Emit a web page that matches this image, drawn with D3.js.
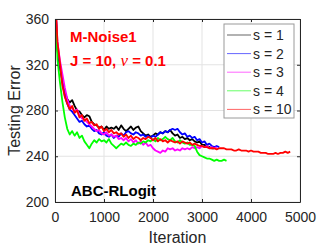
<!DOCTYPE html>
<html>
<head>
<meta charset="utf-8">
<script src="https://cdn.jsdelivr.net/npm/d3@7"></script>
<style>
  body { margin: 0; background: #fff; }
  svg { display: block; font-family: "Liberation Sans", Arial, sans-serif; }
</style>
</head>
<body>
<script>
// sample spacing of the traces (iterations)
var iterStep = 50;

var seriesNames = ["s = 1", "s = 2", "s = 3", "s = 4", "s = 10"];
var seriesColors = ["#000000", "#0000ff", "#ff00ff", "#00ff00", "#ff0000"];

var s1 = [380, 333, 318, 306, 296, 290, 287, 289, 284, 280, 279, 276, 274, 276, 275, 270, 268, 267, 265, 266,
  263, 266, 264, 265, 264, 266, 263, 267, 264, 262, 264, 266, 263, 265, 266, 262, 260, 258, 259, 257,
  258, 260, 259, 261, 260, 262, 261, 263, 260, 258, 259, 256, 257, 255, 256, 254, 255, 253, 252, 253,
  250, 250, 249, 248, 247, 247];
var s2 = [380, 335, 320, 305, 293, 286, 281, 279, 276, 273, 270, 271, 268, 266, 267, 264, 262, 263, 260, 259,
  261, 258, 257, 259, 256, 258, 257, 260, 258, 261, 262, 260, 259, 261, 260, 258, 259, 257, 258, 256,
  258, 257, 259, 261, 260, 262, 261, 263, 264, 263, 264, 261, 259, 260, 257, 258, 256, 257, 254, 255,
  252, 253, 250, 251, 249, 248, 249, 248];
var s3 = [380, 340, 324, 312, 300, 290, 284, 282, 279, 281, 276, 273, 272, 270, 268, 266, 264, 262, 263, 260,
  259, 261, 258, 259, 257, 258, 255, 256, 254, 256, 253, 255, 252, 254, 251, 253, 250, 252, 249, 250,
  247, 245, 244, 243, 245, 244, 247, 246, 247, 245, 246, 245, 247, 246, 247, 246, 248, 247, 248, 247,
  249, 248, 249, 247, 248, 247, 248];
var s4 = [380, 325, 305, 288, 274, 264, 259, 262, 258, 261, 256, 258, 253, 250, 247, 251, 254, 252, 255, 253,
  254, 252, 255, 251, 249, 247, 249, 251, 250, 252, 250, 249, 251, 250, 252, 251, 253, 252, 254, 253,
  255, 253, 256, 254, 255, 257, 255, 254, 256, 253, 252, 254, 252, 251, 252, 250, 250, 249, 244, 241,
  240, 239, 238, 238, 237, 236, 237, 236, 236, 237, 236];
var s10 = [385, 340, 322, 302, 292, 286, 281, 284, 278, 280, 274, 276, 271, 273, 269, 270, 267, 268, 264, 266,
  262, 264, 261, 263, 260, 261, 259, 260, 257, 259, 256, 258, 255, 257, 256, 254, 256, 255, 257, 256,
  254, 256, 253, 255, 253, 254, 252, 254, 253, 252, 253, 251, 253, 252, 251, 252, 250, 251, 250, 249,
  249, 248, 248, 247, 247, 247, 246, 247, 247, 247, 246, 246, 246, 245, 245, 246, 245, 245, 245, 244,
  245, 244, 244, 244, 243, 243, 243, 242, 242, 242, 243, 242, 243, 243, 244, 243, 244];
var allSeries = [s1, s2, s3, s4, s10];

var xTicks = [0, 1000, 2000, 3000, 4000, 5000];
var yTicks = [200, 240, 280, 320, 360];

var outerWidth = 332, outerHeight = 249;
var margin = { left: 55, top: 19, right: 32, bottom: 47 };
var innerWidth = outerWidth - margin.left - margin.right;
var innerHeight = outerHeight - margin.top - margin.bottom;

var svg = d3.select("body").append("svg")
  .attr("width", outerWidth)
  .attr("height", outerHeight);

var g = svg.append("g")
  .attr("transform", "translate(" + margin.left + "," + margin.top + ")");

var xScale = d3.scaleLinear().domain([0, 5000]).range([0, innerWidth]);
var yScale = d3.scaleLinear().domain([200, 360]).range([innerHeight, 0]);

// grid
g.selectAll(".gx").data(xTicks).enter().append("line")
  .attr("x1", function (d){ return xScale(d); }).attr("x2", function (d){ return xScale(d); })
  .attr("y1", 0).attr("y2", innerHeight)
  .attr("stroke", "#e3e3e3").attr("stroke-width", 1);
g.selectAll(".gy").data(yTicks).enter().append("line")
  .attr("y1", function (d){ return yScale(d); }).attr("y2", function (d){ return yScale(d); })
  .attr("x1", 0).attr("x2", innerWidth)
  .attr("stroke", "#e3e3e3").attr("stroke-width", 1);

svg.append("defs").append("clipPath").attr("id", "clip")
  .append("rect").attr("width", innerWidth).attr("height", innerHeight);

var line = d3.line()
  .x(function (d, i){ return xScale(i * iterStep); })
  .y(function (d){ return yScale(d); });

g.append("g").attr("clip-path", "url(#clip)")
  .selectAll("path").data(allSeries).enter().append("path")
  .attr("d", line)
  .attr("fill", "none")
  .attr("stroke", function (d, i){ return seriesColors[i]; })
  .attr("stroke-width", 1.8)
  .attr("stroke-linejoin", "round");

// axes
var axisColor = "#262626";
var xAxis = d3.axisBottom(xScale).tickValues(xTicks).tickFormat(d3.format("d"))
  .tickSizeInner(-3).tickSizeOuter(0).tickPadding(10);
var yAxis = d3.axisLeft(yScale).tickValues(yTicks).tickFormat(d3.format("d"))
  .tickSizeInner(-3).tickSizeOuter(0).tickPadding(6);

g.append("g").attr("transform", "translate(0," + innerHeight + ")").call(xAxis);
g.append("g").call(yAxis);
var topAx = g.append("g")
  .call(d3.axisTop(xScale).tickValues(xTicks).tickSizeInner(-3).tickSizeOuter(0));
var rightAx = g.append("g").attr("transform", "translate(" + innerWidth + ",0)")
  .call(d3.axisRight(yScale).tickValues(yTicks).tickSizeInner(-3).tickSizeOuter(0));
topAx.selectAll("text").remove();
rightAx.selectAll("text").remove();

g.selectAll(".domain").attr("stroke", axisColor);
g.selectAll(".tick line").attr("stroke", axisColor);
g.selectAll(".tick text").attr("fill", axisColor)
  .style("font-size", "14px").style("font-family", "Liberation Sans, Arial, sans-serif");

// axis labels
svg.append("text")
  .attr("x", margin.left + innerWidth / 2).attr("y", 243)
  .attr("text-anchor", "middle").attr("fill", axisColor)
  .style("font-size", "16px").text("Iteration");
svg.append("text")
  .attr("transform", "translate(20," + (margin.top + innerHeight / 2) + ") rotate(-90)")
  .attr("text-anchor", "middle").attr("fill", axisColor)
  .style("font-size", "16px").text("Testing Error");

// annotations
g.append("text").attr("x", 15).attr("y", 23)
  .attr("fill", "#ff0000").style("font-size", "15px").style("font-weight", "bold")
  .text("M-Noise1");
var t2 = g.append("text").attr("x", 15).attr("y", 47)
  .attr("fill", "#ff0000").style("font-size", "15px").style("font-weight", "bold");
t2.append("tspan").text("J = 10, ");
t2.append("tspan").style("font-family", "Liberation Serif, serif").style("font-style", "italic")
  .style("font-weight", "normal").style("font-size", "17px").text("\u03bd");
t2.append("tspan").text(" = 0.1");
g.append("text").attr("x", 16).attr("y", 177)
  .attr("fill", "#000").style("font-size", "15px").style("font-weight", "bold")
  .text("ABC-RLogit");

// legend
var legend = svg.append("g").attr("transform", "translate(224,24)");
legend.append("rect").attr("width", 70).attr("height", 94)
  .attr("fill", "#fff").attr("stroke", "#9a9a9a").attr("stroke-width", 1);
var items = legend.selectAll(".item").data(seriesNames).enter().append("g")
  .attr("transform", function (d, i){ return "translate(0," + (11 + i * 18.6) + ")"; });
items.append("line").attr("x1", 3).attr("x2", 27).attr("y1", 0).attr("y2", 0)
  .attr("stroke", function (d, i){ return seriesColors[i]; }).attr("stroke-width", 1).attr("opacity", 0.6);
items.append("text").attr("x", 29).attr("y", 5)
  .attr("fill", axisColor).style("font-size", "14px").text(function (d){ return d; });
</script>
</body>
</html>
